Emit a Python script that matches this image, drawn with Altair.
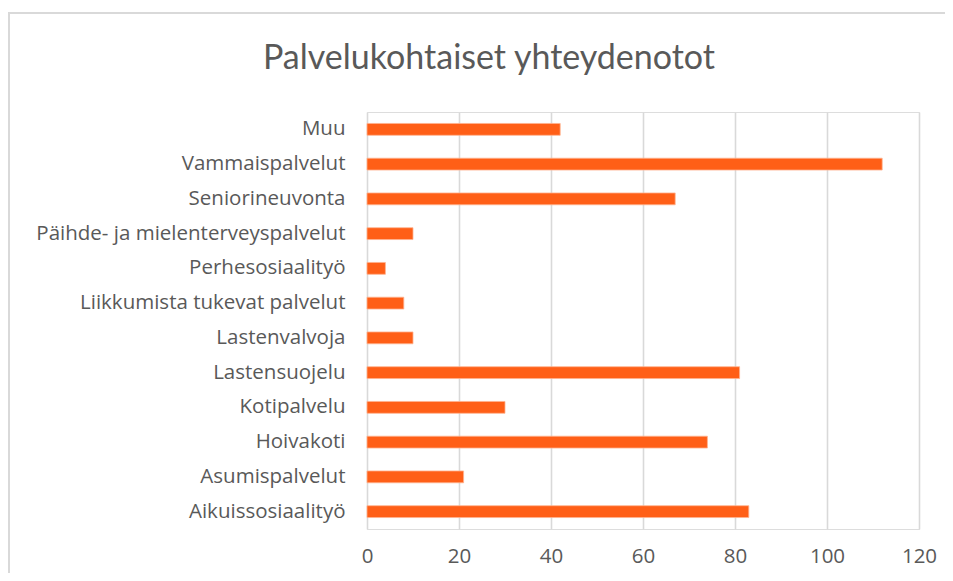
import altair as alt
import pandas as pd

categories = [
    "Muu",
    "Vammaispalvelut",
    "Seniorineuvonta",
    "Päihde- ja mielenterveyspalvelut",
    "Perhesosiaalityö",
    "Liikkumista tukevat palvelut",
    "Lastenvalvoja",
    "Lastensuojelu",
    "Kotipalvelu",
    "Hoivakoti",
    "Asumispalvelut",
    "Aikuissosiaalityö",
]
values = [42, 112, 67, 10, 4, 8, 10, 81, 30, 74, 21, 83]
x_ticks = [0, 20, 40, 60, 80, 100, 120]
title_text = "Palvelukohtaiset yhteydenotot"

df = pd.DataFrame({"palvelu": categories, "maara": values})

FONT = "Open Sans"
GREY = "#595959"

bars = alt.Chart(df).mark_bar(
    color="#FF5F17", stroke="#FFB28F", strokeWidth=0.8
).encode(
    x=alt.X("maara:Q", scale=alt.Scale(domain=[0, 120], nice=False),
            axis=alt.Axis(values=x_ticks, title=None, domain=False, ticks=False,
                          grid=True, gridColor="#D9D9D9", gridWidth=1.6,
                          labelColor=GREY, labelFontSize=20.5, labelFont=FONT,
                          labelPadding=17, labelFlush=False)),
    y=alt.Y("palvelu:N", sort=categories,
            scale=alt.Scale(paddingInner=0.66, paddingOuter=0.33),
            axis=alt.Axis(title=None, domain=False, ticks=False,
                          labelColor=GREY, labelFontSize=20.5, labelFont=FONT,
                          labelPadding=22, labelLimit=400)),
)

border = alt.Chart(df).mark_rect(fill=None, stroke="#D9D9D9", strokeWidth=1.5).encode(
    x=alt.value(-358), x2=alt.value(700), y=alt.value(-99), y2=alt.value(600)
)

title = alt.Chart(pd.DataFrame({"t": [title_text]})).mark_text(
    font="Lato", fontSize=34, color=GREY, align="center", baseline="alphabetic"
).encode(text="t:N", x=alt.value(122), y=alt.value(-43))

chart = alt.layer(border, bars, title).properties(
    width=552,
    height=417,
    autosize=alt.AutoSizeParams(type="none"),
    padding={"left": 359, "top": 104, "right": 26, "bottom": 44},
).configure_view(stroke=None).configure(background="white")

chart.save("out.html", embed_options={"renderer": "svg", "actions": False})
